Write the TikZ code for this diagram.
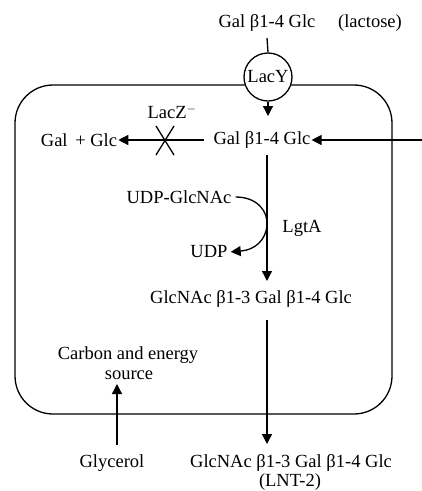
\documentclass[tikz,border=0pt]{standalone}
\usepackage{fontspec}
\setmainfont{Liberation Serif}
\usetikzlibrary{arrows.meta}
\begin{document}
\begin{tikzpicture}[x=1pt,y=-1pt,
  every node/.style={inner sep=1pt,font=\fontsize{18.5}{20}\selectfont},
  ln/.style={line width=1.3pt},
  arr/.style={ln,-{Triangle[length=10pt,width=10pt]}}]
\useasboundingbox (0,0) rectangle (422,491);
% cell
\draw[ln,rounded corners=38pt] (15,85) rectangle (392,414);
% nodes
\node (lacout) at (267,23) {Gal β1-4 Glc};
\node (lactose) at (370,23) {(lactose)};
\node[circle,draw,line width=1.3pt,fill=white,minimum size=48pt,inner sep=0pt] (lacy) at (268,77) {LacY};
\node (lac) at (262,140) {Gal β1-4 Glc};
\node (galglc) at (79,140) {Gal\, + Glc};
\node (lacz) at (172,112) {LacZ$^{-}$};
\node (udpg) at (179,197) {UDP-GlcNAc};
\node (udp) at (209,252) {UDP};
\node (lgta) at (302,228) {LgtA};
\node (tri) at (251,299) {GlcNAc β1-3 Gal β1-4 Glc};
\node (carbon) at (128,355) {Carbon and energy};
\node (source) at (129,375) {source};
\node (glyc) at (112,463) {Glycerol};
\node (lnt) at (291,463) {GlcNAc β1-3 Gal β1-4 Glc};
\node (lntl) at (290,482) {(LNT-2)};
\coordinate (ext) at (422,140);
\coordinate (mid) at (267,225);
% connectors
\draw[ln] (267,38) -- (lacy.north);
\draw[arr] (lacy.south) -- (268,116);
\draw[arr] (ext) -- (lac.east);
\draw[arr] (204,140) -- (galglc.east);
\draw[ln] (156,126) -- (174,155);
\draw[ln] (174,126) -- (156,155);
\draw[arr] (267,155) -- (267,281);
\draw[arr,shorten <=3pt,shorten >=2pt] (udpg.east) .. controls (258,197) and (268,212) .. (mid) .. controls (266,240) and (255,250) .. (udp.east);
\draw[arr] (267,320) -- (267,444);
\draw[arr] (117,445) -- (117,384);
\end{tikzpicture}
\end{document}
